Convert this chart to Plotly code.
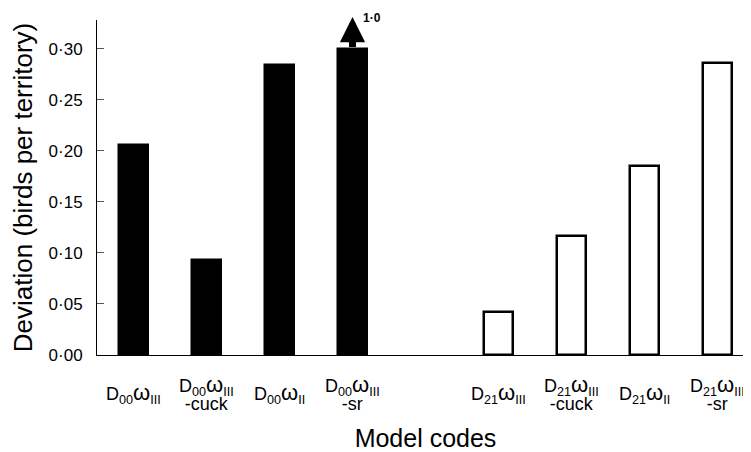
import plotly.graph_objects as go

# ---- data ----
labels_d00 = ["D<sub>00</sub>ω<sub>III</sub>", "D<sub>00</sub>ω<sub>III</sub><br>-cuck",
              "D<sub>00</sub>ω<sub>II</sub>", "D<sub>00</sub>ω<sub>III</sub><br>-sr"]
values_d00 = [0.206, 0.093, 0.284, 0.300]
labels_d21 = ["D<sub>21</sub>ω<sub>III</sub>", "D<sub>21</sub>ω<sub>III</sub><br>-cuck",
              "D<sub>21</sub>ω<sub>II</sub>", "D<sub>21</sub>ω<sub>III</sub><br>-sr"]
values_d21 = [0.042, 0.117, 0.185, 0.286]
ytick_vals = [0.00, 0.05, 0.10, 0.15, 0.20, 0.25, 0.30]
ytick_text = ["0·00", "0·05", "0·10", "0·15", "0·20", "0·25", "0·30"]
truncated_index = 3          # bar in group 1 that is truncated
truncated_true_value = "1·0"

x_d00 = list(range(len(values_d00)))
x_d21 = [len(values_d00) + 1 + i for i in range(len(values_d21))]

FONT = "Liberation Sans, Arial, sans-serif"


def styled(label):
    # tight line spacing: small base font, each line rendered larger via a span;
    # the omega glyph is enlarged a little as in the original typesetting
    out = []
    for line in label.split("<br>"):
        line = line.replace("ω", "<span style='font-size:22px'>ω</span>")
        out.append("<span style='font-size:18px'>" + line + "</span>")
    return "<br>".join(out)


fig = go.Figure()
fig.add_trace(go.Bar(x=x_d00, y=values_d00, width=0.40,
                     marker=dict(color="black", line=dict(color="black", width=2.5)),
                     showlegend=False, hoverinfo="y"))
fig.add_trace(go.Bar(x=x_d21, y=values_d21, width=0.40,
                     marker=dict(color="white", line=dict(color="black", width=2.5)),
                     showlegend=False, hoverinfo="y"))

# category labels below axis, vertically centred
for xv, lab in zip(x_d00 + x_d21, labels_d00 + labels_d21):
    fig.add_annotation(x=xv, y=0, xref="x", yref="y", text=styled(lab), showarrow=False,
                       yanchor="middle", yshift=-38,
                       font=dict(family=FONT, size=14, color="black"))

# arrow indicating truncated bar
top = values_d00[truncated_index]
fig.add_annotation(x=x_d00[truncated_index], y=top + 0.031, ax=x_d00[truncated_index], ay=top,
                   xref="x", yref="y", axref="x", ayref="y", text="",
                   showarrow=True, arrowhead=2, arrowwidth=7, arrowsize=0.72,
                   arrowcolor="black", standoff=0, startstandoff=0)
fig.add_annotation(x=x_d00[truncated_index], y=top, xref="x", yref="y",
                   text="<b>" + truncated_true_value + "</b>", showarrow=False,
                   xshift=19, yshift=31, yanchor="middle",
                   font=dict(family=FONT, size=12, color="black"))

fig.update_layout(
    width=751, height=452,
    margin=dict(l=89, r=5, t=12, b=105),
    paper_bgcolor="white", plot_bgcolor="white",
    font=dict(family=FONT, color="black"),
    bargap=0,
)
fig.update_xaxes(range=[-0.5, len(values_d00) + len(values_d21) + 0.5],
                 showticklabels=False, ticks="", showgrid=False, zeroline=False,
                 showline=True, linecolor="black", linewidth=1, automargin=False,
                 title=dict(text="Model codes", font=dict(family=FONT, size=25), standoff=74))
fig.update_yaxes(range=[0, 0.328], tickvals=ytick_vals, ticktext=ytick_text,
                 ticks="inside", ticklen=7, tickcolor="#555", tickwidth=1,
                 ticklabelstandoff=10,
                 showgrid=False, zeroline=False, showline=True, linecolor="black", linewidth=1,
                 tickfont=dict(family=FONT, size=17), automargin=False,
                 title=dict(text="Deviation (birds per territory)", font=dict(family=FONT, size=26),
                            standoff=12))

fig.write_html("out.html")
